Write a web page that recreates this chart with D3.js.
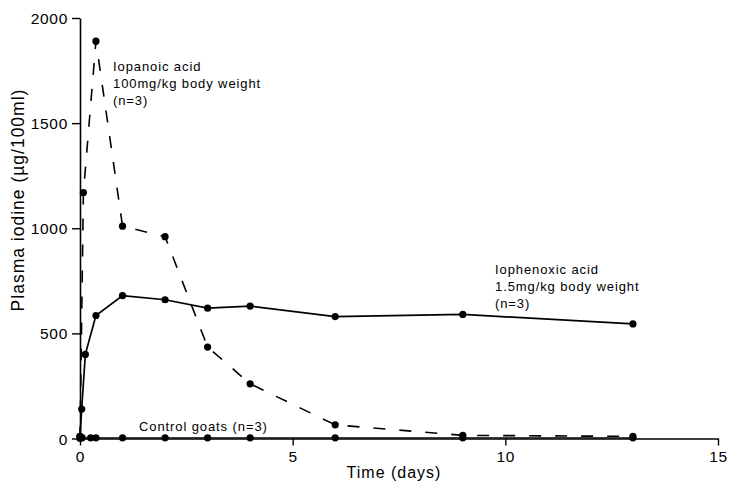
<!DOCTYPE html>
<html>
<head>
<meta charset="utf-8">
<script src="https://cdn.jsdelivr.net/npm/d3@7"></script>
<style>
  body { margin: 0; background: #fff; }
  svg text { font-family: "Liberation Sans", Arial, Helvetica, sans-serif; fill: #000; }
</style>
</head>
<body>
<div id="chart"></div>
<script>
// time in days, plasma iodine in µg/100ml
const iopanoicDays = [0, 0.08, 0.375, 1, 2, 3, 4, 6, 9, 13];
const iopanoicValues = [0, 1170, 1890, 1010, 960, 435, 260, 65, 15, 10];

const iophenoxicDays = [0, 0.04, 0.125, 0.375, 1, 2, 3, 4, 6, 9, 13];
const iophenoxicValues = [10, 140, 400, 585, 680, 660, 620, 630, 580, 590, 545];

const controlDays = [0, 0.05, 0.25, 0.375, 1, 2, 3, 4, 6, 9, 13];
const controlValues = [10, 4, 3, 3, 3, 3, 3, 3, 3, 3, 3];

const xTicks = [0, 5, 10, 15];
const yTicks = [0, 500, 1000, 1500, 2000];

const labelIopanoic = ["Iopanoic acid", "100mg/kg body weight", "(n=3)"];
const labelIophenoxic = ["Iophenoxic acid", "1.5mg/kg body weight", "(n=3)"];
const labelControl = "Control goats (n=3)";

const width = 730;
const height = 488;

let svg = d3.select("#chart")
    .append("svg")
    .attr("width", width)
    .attr("height", height);

let x = d3.scaleLinear().domain([0, 15]).range([80, 718]);
let y = d3.scaleLinear().domain([0, 2000]).range([438.5, 18]);

// axes
let xAxis = svg.append("g")
    .attr("transform", "translate(0," + y(0) + ")")
    .call(d3.axisBottom(x).tickValues(xTicks).tickFormat(d3.format("d"))
        .tickSize(7).tickPadding(5).tickSizeOuter(0));
let yAxis = svg.append("g")
    .attr("transform", "translate(" + x(0) + ",0)")
    .call(d3.axisLeft(y).tickValues(yTicks).tickFormat(d3.format("d"))
        .tickSize(8).tickPadding(4).tickSizeOuter(0));

[xAxis, yAxis].forEach(function (a) {
    a.select(".domain").attr("stroke", "#000").attr("stroke-width", 1.6);
    a.selectAll(".tick line").attr("stroke", "#000").attr("stroke-width", 1.4);
    a.selectAll(".tick text")
        .attr("font-size", "15.5px")
        .style("letter-spacing", "0.7px")
        .attr("fill", "#000");
});
yAxis.selectAll(".tick text").attr("dy", "0.36em");

svg.append("text")
    .attr("x", 394)
    .attr("y", 478)
    .attr("text-anchor", "middle")
    .attr("font-size", "16px")
    .style("letter-spacing", "1px")
    .text("Time (days)");

svg.append("text")
    .attr("transform", "translate(24,200) rotate(-90)")
    .attr("text-anchor", "middle")
    .attr("font-size", "17.5px")
    .style("letter-spacing", "1px")
    .text("Plasma iodine (µg/100ml)");

function toPoints(days, values) {
    return days.map(function (d, i) { return { t: d, v: values[i] }; });
}

let line = d3.line()
    .x(function (d) { return x(d.t); })
    .y(function (d) { return y(d.v); });

let series = [
    { pts: toPoints(controlDays, controlValues), dash: null, w: 1.3 },
    { pts: toPoints(iophenoxicDays, iophenoxicValues), dash: null, w: 1.7 },
    { pts: toPoints(iopanoicDays, iopanoicValues), dash: "12,14", w: 1.6 }
];

series.forEach(function (s) {
    svg.append("path")
        .datum(s.pts)
        .attr("fill", "none")
        .attr("stroke", "#000")
        .attr("stroke-width", s.w)
        .attr("stroke-dasharray", s.dash)
        .attr("d", line);

    svg.append("g")
        .selectAll("circle")
        .data(s.pts)
        .enter()
        .append("circle")
        .attr("cx", function (d) { return x(d.t); })
        .attr("cy", function (d) { return y(d.v); })
        .attr("r", 3.6)
        .attr("fill", "#000");
});

// annotations
function block(lines, left, top) {
    svg.append("g").selectAll("text")
        .data(lines)
        .enter()
        .append("text")
        .attr("x", left)
        .attr("y", function (d, i) { return top + i * 17; })
        .attr("font-size", "13px")
        .style("letter-spacing", "0.9px")
        .text(function (d) { return d; });
}
block(labelIopanoic, 113, 71);
block(labelIophenoxic, 495, 274);

svg.append("text")
    .attr("x", 139)
    .attr("y", 431)
    .attr("font-size", "13px")
    .style("letter-spacing", "0.9px")
    .text(labelControl);
</script>
</body>
</html>
